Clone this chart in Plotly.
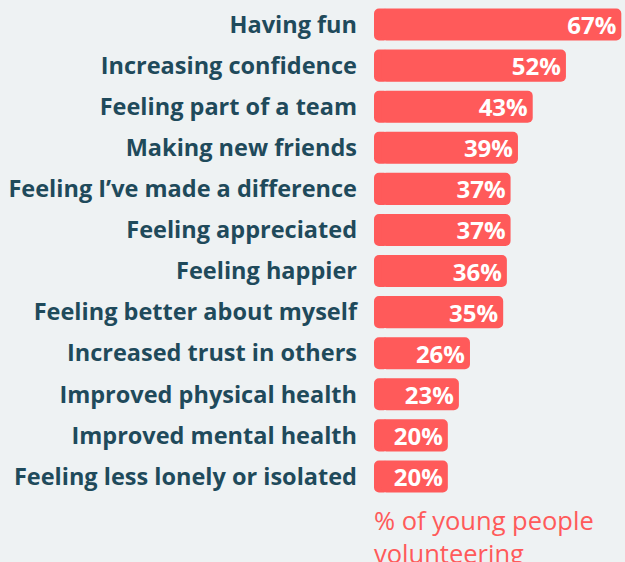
import plotly.graph_objects as go

categories = [
    "Having fun",
    "Increasing confidence",
    "Feeling part of a team",
    "Making new friends",
    "Feeling I’ve made a difference",
    "Feeling appreciated",
    "Feeling happier",
    "Feeling better about myself",
    "Increased trust in others",
    "Improved physical health",
    "Improved mental health",
    "Feeling less lonely or isolated",
]
values = [67, 52, 43, 39, 37, 37, 36, 35, 26, 23, 20, 20]
value_labels = [f"{v}%" for v in values]
axis_title = "% of young people<br>volunteering"

BAR = "#ff5a5a"
TXT = "#1f4a5b"
BG = "#eef2f3"
FONT = "Open Sans"

# Each bar = a short left cap (rounded at 0) under a main bar (rounded at its value),
# overlapping so no seam shows.
CAP = 4
START = 2
cap_base = [CAP] * len(values)
cap_len = [-CAP] * len(values)
main_base = [START] * len(values)
main_len = [v - START for v in values]

fig = go.Figure()
fig.add_trace(
    go.Bar(
        x=cap_len,
        y=categories,
        base=cap_base,
        orientation="h",
        marker=dict(color=BAR, line=dict(width=0)),
        hoverinfo="skip",
    )
)
fig.add_trace(
    go.Bar(
        x=main_len,
        y=categories,
        base=main_base,
        orientation="h",
        marker=dict(color=BAR, line=dict(width=0)),
        text=value_labels,
        textposition="inside",
        insidetextanchor="end",
        textangle=0,
        insidetextfont=dict(color="white", size=24, family=FONT, weight="bold"),
        hoverinfo="skip",
    )
)

fig.update_layout(
    width=625,
    height=562,
    margin=dict(l=374, r=0, t=4, b=65),
    paper_bgcolor=BG,
    plot_bgcolor=BG,
    barmode="overlay",
    bargap=0.22,
    barcornerradius=5,
    showlegend=False,
    uniformtext=dict(minsize=24, mode="show"),
    xaxis=dict(range=[0, 68], visible=False, fixedrange=True),
    yaxis=dict(
        autorange="reversed",
        showgrid=False,
        zeroline=False,
        showline=False,
        ticks="",
        ticklabelstandoff=16,
        fixedrange=True,
        tickfont=dict(color=TXT, size=23.5, family=FONT, weight="bold"),
    ),
    annotations=[
        dict(
            text=axis_title,
            xref="x",
            x=0,
            xanchor="left",
            yref="paper",
            y=0,
            yanchor="top",
            yshift=-4,
            xshift=-2,
            showarrow=False,
            align="left",
            font=dict(color=BAR, size=25.5, family=FONT),
        )
    ],
)

fig.write_html(
    "out.html",
    config={"displayModeBar": False},
    post_script="document.body.style.margin='0';document.body.style.padding='0';document.body.style.overflow='hidden';",
)
